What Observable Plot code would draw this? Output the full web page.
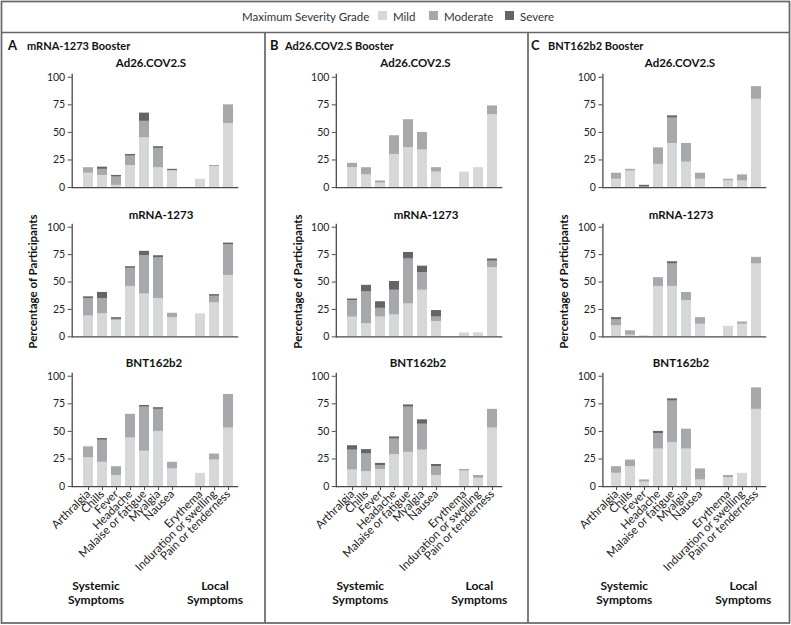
<!DOCTYPE html>
<html><head><meta charset="utf-8">
<script src="https://cdn.jsdelivr.net/npm/d3@7"></script>
<script src="https://cdn.jsdelivr.net/npm/@observablehq/plot@0.6"></script>
<style>
body{margin:0;background:#fff;font-family:Lato,"Open Sans",sans-serif;}
#root{position:relative;width:791px;height:625px;overflow:hidden;background:#fff;}
#root svg{position:absolute;overflow:visible;}
</style></head><body><div id="root"></div><script>
// ---------- data ----------
const symptoms = ["Arthralgia","Chills","Fever","Headache","Malaise or fatigue","Myalgia","Nausea","Erythema","Induration or swelling","Pain or tenderness"];
const grades = ["Mild","Moderate","Severe"];
const gradeColors = ["#d6d7d9","#a6a8ab","#646567"];
const panelLetters = ["A","B","C"];
const boosters = ["mRNA-1273 Booster","Ad26.COV2.S Booster","BNT162b2 Booster"];
const primaries = ["Ad26.COV2.S","mRNA-1273","BNT162b2"];
const yTicks = [0,25,50,75,100];

// Panel A: mRNA-1273 booster
const mildA_Ad26 = [13, 11, 2, 20, 45, 18, 15, 7.5, 19, 58];
const modA_Ad26  = [5, 5.5, 7.5, 8.5, 15, 17.5, 0.5, 0, 1, 17];
const sevA_Ad26  = [0, 2, 1.5, 1.5, 7.5, 1.5, 1, 0, 0, 0];
const mildA_mRNA = [19, 21, 15, 46, 39, 35, 17.5, 21, 31, 56];
const modA_mRNA  = [16, 14, 1, 16.5, 35, 37, 4, 0, 6, 28];
const sevA_mRNA  = [1.5, 5.5, 1.5, 1.5, 4, 2, 0, 0, 1.5, 1.5];
const mildA_BNT  = [26, 22, 10, 44, 32, 50, 16, 12, 24, 53];
const modA_BNT   = [10, 20, 8, 21.5, 40, 20, 6, 0, 5.5, 30.5];
const sevA_BNT   = [0, 1.5, 0, 0, 1.5, 1.5, 0, 0, 0, 0];
// Panel B: Ad26.COV2.S booster
const mildB_Ad26 = [18, 11.5, 4, 30, 36, 34, 14, 14, 18, 66];
const modB_Ad26  = [4, 6.5, 2, 17, 25.5, 16, 4, 0, 0, 8];
const sevB_Ad26  = [0, 0, 0, 0, 0, 0, 0, 0, 0, 0];
const mildB_mRNA = [18, 12, 18, 20, 30, 42.5, 14, 3.6, 3.6, 63];
const modB_mRNA  = [15, 29, 8, 22.5, 41, 16, 4, 0, 0, 6];
const sevB_mRNA  = [1.5, 6, 6, 8, 6, 6, 6, 0, 0, 2];
const mildB_BNT  = [15, 13.5, 15.5, 29, 31, 33, 10, 14, 7.5, 53];
const modB_BNT   = [18, 16, 3.5, 14, 41, 23.5, 8, 1.5, 2.5, 17];
const sevB_BNT   = [4, 4, 2, 2, 2, 4, 2, 0, 0, 0];
// Panel C: BNT162b2 booster
const mildC_Ad26 = [7.5, 15, 0, 21, 40, 23, 7.5, 6, 6, 80];
const modC_Ad26  = [5.5, 1.5, 0.5, 15, 23, 17, 5.5, 1.5, 5.5, 11.5];
const sevC_Ad26  = [0, 0, 1.5, 0, 2, 0, 0, 0, 0, 0];
const mildC_mRNA = [10, 1.5, 1, 46, 46, 33, 11.5, 9.7, 11.5, 66.5];
const modC_mRNA  = [5.5, 4, 0, 8, 20.5, 7.5, 6, 0, 2, 6];
const sevC_mRNA  = [2, 0, 0, 0, 2, 0, 0, 0, 0, 0];
const mildC_BNT  = [12, 18, 4, 34, 40, 34, 6, 8, 12, 70];
const modC_BNT   = [6, 6, 2, 14, 37.5, 18, 10, 2, 0, 19.5];
const sevC_BNT   = [0, 0, 0, 2, 2, 0, 0, 0, 0, 0];

const cells = [
  [[mildA_Ad26, modA_Ad26, sevA_Ad26], [mildA_mRNA, modA_mRNA, sevA_mRNA], [mildA_BNT, modA_BNT, sevA_BNT]],
  [[mildB_Ad26, modB_Ad26, sevB_Ad26], [mildB_mRNA, modB_mRNA, sevB_mRNA], [mildB_BNT, modB_BNT, sevB_BNT]],
  [[mildC_Ad26, modC_Ad26, sevC_Ad26], [mildC_mRNA, modC_mRNA, sevC_mRNA], [mildC_BNT, modC_BNT, sevC_BNT]]
];

// ---------- layout ----------
const spacer = " ";
const xDomain = [...symptoms.slice(0,7), spacer, ...symptoms.slice(7)];
const panelShift = [0, 264.3, 528.3];
const axisLeft = [71.7, 71.8, 74.4];
const axisRight = 238.3;
const barRange = [79, 236];
const rowZero = [187, 336.3, 486];
const pxPer100 = [110.3, 109.6, 110.3];
const yMax = 102.5;
const W = 250;
const axisColor = "#4a4a4a";
const textColor = "#222";

const root = document.getElementById("root");
const NS = "http://www.w3.org/2000/svg";

// overlay svg for frame & labels
const ov = document.createElementNS(NS, "svg");
ov.setAttribute("width", 791); ov.setAttribute("height", 625);
ov.style.left = "0px"; ov.style.top = "0px";
root.appendChild(ov);
function el(tag, attrs, text) {
  const e = document.createElementNS(NS, tag);
  for (const k in attrs) e.setAttribute(k, attrs[k]);
  if (text != null) e.textContent = text;
  ov.appendChild(e);
  return e;
}
const bc = "#666";
el("rect", {x: 1.5, y: 1.5, width: 788, height: 621.5, fill: "none", stroke: bc, "stroke-width": 1.7});
el("line", {x1: 1.5, x2: 789.5, y1: 32.5, y2: 32.5, stroke: bc, "stroke-width": 1.7});
el("line", {x1: 265, x2: 265, y1: 32.5, y2: 623, stroke: bc, "stroke-width": 1.7});
el("line", {x1: 528, x2: 528, y1: 32.5, y2: 623, stroke: bc, "stroke-width": 1.7});

// legend
const lg = {"font-family": "Lato", "font-size": 11.5, fill: "#333"};
el("text", {...lg, x: 242, y: 20.5}, "Maximum Severity Grade");
const legX = [378, 429, 505];
grades.forEach((g, i) => {
  el("rect", {x: legX[i], y: 11, width: 9, height: 9, fill: gradeColors[i]});
  el("text", {...lg, x: legX[i] + 15, y: 20.5}, g);
});

// panel titles
const letterX = [8, 270, 531];
const titleX = [27, 285, 548];
boosters.forEach((b, p) => {
  el("text", {"font-family": "Lato", "font-weight": 700, "font-size": 13, fill: "#111", x: letterX[p], y: 50}, panelLetters[p]);
  el("text", {"font-family": "Lato", "font-weight": 700, "font-size": 11, fill: "#111", x: titleX[p], y: 49.5}, b);
});

// row titles
const rowTitleX = [[151, 161, 154], [415.5, 426, 418], [680, 681, 681]];
const rowTitleY = [67, 219, 367];
for (let p = 0; p < 3; p++) for (let r = 0; r < 3; r++) {
  el("text", {"font-family": "Lato", "font-weight": 700, "font-size": 11.5, fill: "#111", x: rowTitleX[p][r], y: rowTitleY[r], "text-anchor": "middle"}, primaries[r]);
}

// y labels & group labels
for (let p = 0; p < 3; p++) {
  const ax = panelShift[p] + axisLeft[p];
  const cx = ax - 39;
  el("text", {"font-family": "Lato", "font-weight": 700, "font-size": 11.5, fill: "#111", x: 0, y: 0,
    "text-anchor": "middle", "dominant-baseline": "central",
    transform: `translate(${cx},281.5) rotate(-90)`}, "Percentage of Participants");
  const sx = panelShift[p] + 96, lx = panelShift[p] + 215;
  const gs = {"font-family": "Lato", "font-weight": 700, "font-size": 12, fill: "#111", "text-anchor": "middle"};
  el("text", {...gs, x: sx, y: 590}, "Systemic");
  el("text", {...gs, x: sx, y: 604}, "Symptoms");
  el("text", {...gs, x: lx, y: 590}, "Local");
  el("text", {...gs, x: lx, y: 604}, "Symptoms");
}

// ---------- plots ----------
for (let p = 0; p < 3; p++) {
  for (let r = 0; r < 3; r++) {
    const series = cells[p][r];
    const rows = [];
    symptoms.forEach((s, i) => {
      grades.forEach((g, k) => rows.push({symptom: s, grade: g, value: series[k][i]}));
    });
    const plotH = pxPer100[r] * yMax / 100;
    const mt = 6;
    const mb = r === 2 ? 100 : 6;
    const H = mt + plotH + mb;
    const marks = [
      Plot.barY(rows, {x: "symptom", y: "value", fill: "grade", order: grades}),
      Plot.ruleY([0], {stroke: axisColor, strokeWidth: 1.3}),
      Plot.frame({anchor: "left", stroke: axisColor, strokeWidth: 1.3}),
      Plot.axisY(yTicks, {tickSize: 4, tickPadding: 3, fontSize: 10.5, stroke: axisColor, fill: textColor, label: null})
    ];
    if (r === 2) {
      marks.push(Plot.axisX(symptoms, {tickRotate: -45, tickSize: 4, tickPadding: 1.5, fontSize: 11.5, stroke: axisColor, fill: textColor, label: null}));
    }
    const chart = Plot.plot({
      width: W, height: H,
      marginLeft: axisLeft[p], marginRight: W - axisRight, marginTop: mt, marginBottom: mb,
      x: {type: "band", domain: xDomain, range: barRange, paddingInner: 0.3, paddingOuter: 0, axis: null},
      y: {domain: [0, yMax], axis: null},
      color: {domain: grades, range: gradeColors},
      style: {fontFamily: "Lato", background: "transparent", overflow: "visible", color: textColor},
      marks
    });
    chart.style.left = panelShift[p] + "px";
    chart.style.top = (rowZero[r] - plotH - mt) + "px";
    root.appendChild(chart);
  }
}
</script></body></html>
